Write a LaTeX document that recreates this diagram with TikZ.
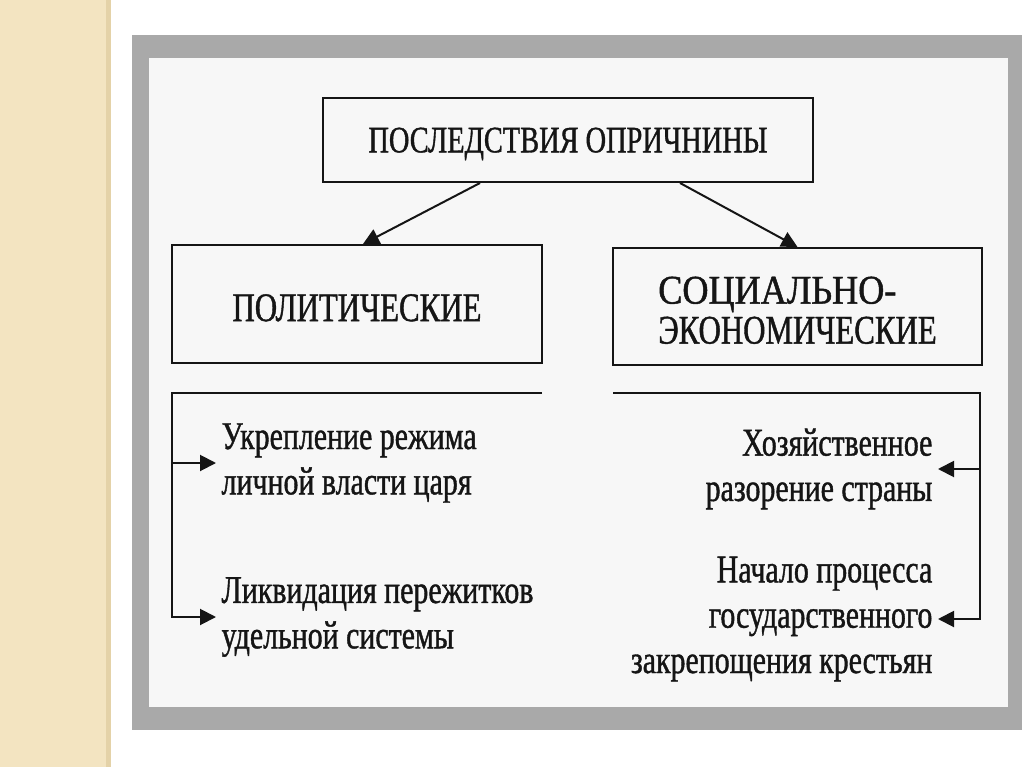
\documentclass[tikz,border=0pt]{standalone}
\usepackage{fontspec}
\setmainfont{Liberation Serif}[FakeStretch=0.76, FakeBold=1.0]
\usepackage{xcolor}
\usepackage{graphicx}
\usetikzlibrary{arrows.meta, positioning, calc}
\definecolor{beige}{HTML}{F3E4C1}
\definecolor{beigeedge}{HTML}{E4D2A8}
\definecolor{frame}{HTML}{A9A9A9}
\definecolor{sheet}{HTML}{F7F7F7}
\definecolor{ink}{HTML}{151515}
\newcommand{\capstrut}{\rule{0pt}{0.85em}}
\tikzset{
  box/.style    = {rectangle, draw=ink, line width=1.5pt, align=center,
                   text=ink, font=\fontsize{30.5}{30}\selectfont},
  item/.style   = {inner ysep=0pt, inner xsep=4pt, text=ink,
                   font=\fontsize{29.5}{34}\selectfont},
  arrow/.style  = {-{Triangle[length=12pt,width=12pt]}, line width=1.5pt, draw=ink},
}
\begin{document}
\begin{tikzpicture}[x=0.75pt, y=-0.75pt]
  \useasboundingbox (0,0) rectangle (1024,767);
  % Background – slide and frame
  \fill[white] (0,0) rectangle (1024,767);
  \fill[beige] (0,0) rectangle (108,767);
  \fill[beigeedge] (106,0) rectangle (111,767);
  \fill[frame] (132,35) rectangle (1022,730);
  \fill[sheet] (149,58) rectangle (1008,707);

  % Boxes
  \node[box, font=\fontsize{28}{30}\selectfont, text depth=0pt,
        minimum width=367.5pt, minimum height=63pt] (title) at (568,140)
    {ПОСЛЕДСТВИЯ ОПРИЧНИНЫ};
  \node[box, minimum width=277.5pt, minimum height=88.5pt] (polit) at (357,304)
    {\capstrut ПОЛИТИЧЕСКИЕ};
  \node[box, align=left, minimum width=276.75pt, minimum height=87.75pt] (socec) at (797.5,306.5)
    {\capstrut\scalebox{1.17}[1]{СОЦИАЛЬНО-}\\ЭКОНОМИЧЕСКИЕ};

  % Items – left column
  \node[item, anchor=west, align=left] (ukr)  at (216,463) {Укрепление режима\\личной власти царя};
  \node[item, anchor=west, align=left] (likv) at (216,617) {Ликвидация пережитков\\удельной системы};

  % Items – right column
  \node[item, anchor=east, align=right] (hoz)  at (938,469) {Хозяйственное\\разорение страны};
  \node[item, anchor=east, align=right] (nach) at (938,619) {Начало процесса\\государственного\\закрепощения крестьян};

  % Bracket corners
  \coordinate (lbr)  at (172,393);
  \coordinate (lbre) at (542,393);
  \coordinate (rbrw) at (613,393);
  \coordinate (rbr)  at (980,393);

  % Arrows: title to groups
  \draw[arrow] ([xshift=-66pt]title.south) -- ([xshift=4.5pt]polit.north);
  \draw[arrow] ([xshift=84pt]title.south)  -- (socec.north);

  % Arrows: brackets to items
  \draw[arrow] (lbre) -- (lbr) |- (likv.west);
  \draw[arrow] (lbr |- ukr.west) -- (ukr.west);
  \draw[arrow] (rbrw) -- (rbr) |- (nach.east);
  \draw[arrow] (rbr |- hoz.east) -- (hoz.east);

\end{tikzpicture}
\end{document}
